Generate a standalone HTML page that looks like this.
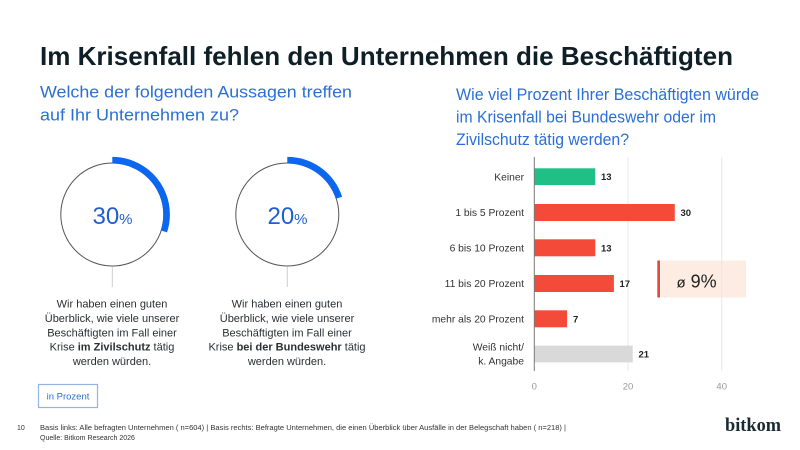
<!DOCTYPE html>
<html>
<head>
<meta charset="utf-8">
<style>
html,body{margin:0;padding:0;background:#fff;}
svg{display:block;font-family:"Liberation Sans",sans-serif;}
</style>
</head>
<body>
<svg width="800" height="450" viewBox="0 0 800 450" xmlns="http://www.w3.org/2000/svg">
<rect width="800" height="450" fill="#ffffff"/>

<!-- Title -->
<text x="40" y="65" font-size="26" font-weight="bold" fill="#0f1f27" textLength="693" lengthAdjust="spacingAndGlyphs">Im Krisenfall fehlen den Unternehmen die Beschäftigten</text>

<!-- Left subtitle -->
<text x="40" y="97.7" font-size="16.5" fill="#2a6fd6" textLength="312" lengthAdjust="spacingAndGlyphs">Welche der folgenden Aussagen treffen</text>
<text x="40" y="120.7" font-size="16.5" fill="#2a6fd6" textLength="199" lengthAdjust="spacingAndGlyphs">auf Ihr Unternehmen zu?</text>

<!-- Right subtitle -->
<text x="456" y="100" font-size="16.5" fill="#2a6fd6" textLength="303" lengthAdjust="spacingAndGlyphs">Wie viel Prozent Ihrer Beschäftigten würde</text>
<text x="456" y="122.7" font-size="16.5" fill="#2a6fd6" textLength="260" lengthAdjust="spacingAndGlyphs">im Krisenfall bei Bundeswehr oder im</text>
<text x="456" y="145" font-size="16.5" fill="#2a6fd6" textLength="173" lengthAdjust="spacingAndGlyphs">Zivilschutz tätig werden?</text>

<!-- Donut 1 -->
<circle cx="112.3" cy="214.5" r="51.5" fill="none" stroke="#555" stroke-width="1"/>
<circle cx="112.3" cy="214.5" r="54.3" fill="none" stroke="#0b66f0" stroke-width="6.6"
  stroke-dasharray="102.4 400" transform="rotate(-90 112.3 214.5)"/>
<text x="112.5" y="224" text-anchor="middle" fill="#1f5fd0"><tspan font-size="24">30</tspan><tspan font-size="15">%</tspan></text>
<line x1="112.3" y1="267" x2="112.3" y2="287" stroke="#cfcfcf" stroke-width="1"/>

<!-- Donut 2 -->
<circle cx="287.3" cy="214.5" r="51.5" fill="none" stroke="#555" stroke-width="1"/>
<circle cx="287.3" cy="214.5" r="54.3" fill="none" stroke="#0b66f0" stroke-width="6.6"
  stroke-dasharray="68.2 400" transform="rotate(-90 287.3 214.5)"/>
<text x="287.5" y="224" text-anchor="middle" fill="#1f5fd0"><tspan font-size="24">20</tspan><tspan font-size="15">%</tspan></text>
<line x1="287.3" y1="267" x2="287.3" y2="287" stroke="#cfcfcf" stroke-width="1"/>

<!-- Descriptions -->
<g font-size="11" fill="#2a2f33" text-anchor="middle">
  <text x="112" y="307.7">Wir haben einen guten</text>
  <text x="112" y="322">Überblick, wie viele unserer</text>
  <text x="112" y="336.3">Beschäftigten im Fall einer</text>
  <text x="112" y="350.6">Krise <tspan font-weight="bold">im Zivilschutz</tspan> tätig</text>
  <text x="112" y="365">werden würden.</text>

  <text x="287" y="307.7">Wir haben einen guten</text>
  <text x="287" y="322">Überblick, wie viele unserer</text>
  <text x="287" y="336.3">Beschäftigten im Fall einer</text>
  <text x="287" y="350.6">Krise <tspan font-weight="bold">bei der Bundeswehr</tspan> tätig</text>
  <text x="287" y="365">werden würden.</text>
</g>

<!-- in Prozent -->
<rect x="38.5" y="384.5" width="59" height="23" fill="#fff" stroke="#93b3e2" stroke-width="1.2"/>
<text x="68" y="399.5" font-size="9.5" fill="#2a6fd6" text-anchor="middle">in Prozent</text>

<!-- Bar chart -->
<!-- average box -->
<rect x="660.5" y="260.5" width="85.5" height="37" fill="#fcece2"/>
<rect x="657.3" y="260.5" width="2.7" height="37" fill="#e9483b"/>
<text x="676.5" y="287.7" fill="#222"><tspan font-size="15">ø</tspan><tspan font-size="18"> 9%</tspan></text>

<!-- gridlines -->
<line x1="628" y1="157" x2="628" y2="371" stroke="#e8e8e8" stroke-width="1"/>
<line x1="721.7" y1="157" x2="721.7" y2="371" stroke="#e8e8e8" stroke-width="1"/>

<!-- bars -->
<rect x="534.3" y="168.3" width="61" height="16.8" fill="#1fbf87"/>
<rect x="534.3" y="204" width="140.5" height="17" fill="#f44a3a"/>
<rect x="534.3" y="239.3" width="61" height="17" fill="#f44a3a"/>
<rect x="534.3" y="275" width="79.6" height="17" fill="#f44a3a"/>
<rect x="534.3" y="310.3" width="32.8" height="17" fill="#f44a3a"/>
<rect x="534.3" y="345.6" width="98.4" height="16.8" fill="#d9d9d9"/>

<!-- axis -->
<line x1="534.3" y1="157" x2="534.3" y2="371" stroke="#7a7a7a" stroke-width="1"/>

<!-- category labels -->
<g font-size="10.3" fill="#333" text-anchor="end">
  <text x="524" y="180.4">Keiner</text>
  <text x="524" y="216.2">1 bis 5 Prozent</text>
  <text x="524" y="251.5">6 bis 10 Prozent</text>
  <text x="524" y="287.2">11 bis 20 Prozent</text>
  <text x="524" y="322.5">mehr als 20 Prozent</text>
  <text x="524" y="350.3">Weiß nicht/</text>
  <text x="524" y="364.5">k. Angabe</text>
</g>

<!-- value labels -->
<g font-size="9.5" font-weight="bold" fill="#222">
  <text x="601" y="180.2">13</text>
  <text x="680.5" y="216">30</text>
  <text x="601" y="251.3">13</text>
  <text x="619.5" y="287">17</text>
  <text x="573" y="322.3">7</text>
  <text x="638.5" y="357.5">21</text>
</g>

<!-- ticks -->
<g font-size="9.5" fill="#999" text-anchor="middle">
  <text x="534.3" y="389.5">0</text>
  <text x="628" y="389.5">20</text>
  <text x="721.7" y="389.5">40</text>
</g>

<!-- Footer -->
<text x="17" y="430" font-size="7" fill="#333">10</text>
<text x="40" y="430" font-size="7" fill="#333" textLength="526" lengthAdjust="spacingAndGlyphs">Basis links: Alle befragten Unternehmen ( n=604) | Basis rechts: Befragte Unternehmen, die einen Überblick über Ausfälle in der Belegschaft haben ( n=218) |</text>
<text x="40" y="440" font-size="7" fill="#333">Quelle: Bitkom Research 2026</text>

<text x="725" y="431" font-family="Liberation Serif, serif" font-size="19" font-weight="bold" fill="#1a2a33" textLength="56" lengthAdjust="spacingAndGlyphs">bitkom</text>
</svg>
</body>
</html>
